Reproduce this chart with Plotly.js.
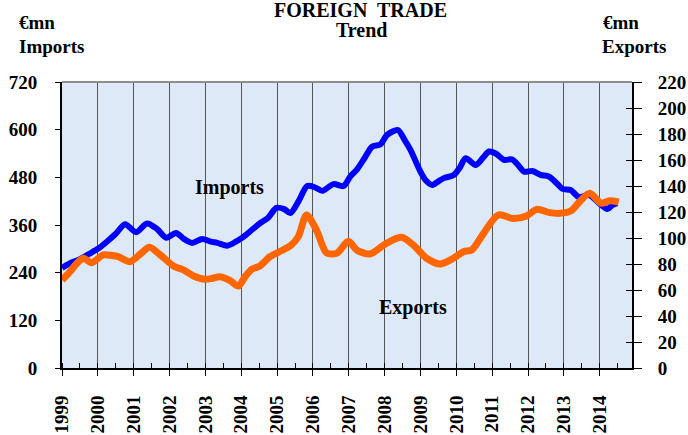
<!DOCTYPE html>
<html>
<head>
<meta charset="utf-8">
<script src="https://cdn.plot.ly/plotly-3.0.1.min.js"></script>
<style>html,body{margin:0;padding:0;background:#fff}#chart{width:688px;height:435px}</style>
</head>
<body>
<div id="chart"></div>
<script>
// Imports (left axis, €mn) — decimal year vs value
const importsT = [1999.0,1999.25,1999.5,1999.75,2000.0,2000.25,2000.5,2000.76,2001.07,2001.37,2001.65,2001.91,2002.18,2002.4,2002.63,2002.91,2003.15,2003.33,2003.61,2003.85,2004.06,2004.3,2004.53,2004.75,2004.98,2005.2,2005.37,2005.6,2005.84,2006.05,2006.26,2006.57,2006.85,2007.04,2007.23,2007.45,2007.65,2007.88,2008.07,2008.37,2008.55,2008.72,2009.0,2009.15,2009.33,2009.5,2009.65,2009.93,2010.1,2010.26,2010.54,2010.75,2010.91,2011.1,2011.33,2011.56,2011.75,2011.89,2012.12,2012.35,2012.58,2012.8,2012.96,2013.19,2013.42,2013.7,2013.98,2014.21,2014.35,2014.49];
const importsV = [252,265,274,287,300,318,338,362,342,364,350,328,340,325,315,325,318,315,308,318,330,348,365,378,403,400,390,420,458,455,446,463,458,482,500,530,557,563,587,599,575,549,494,472,461,470,478,486,505,528,511,530,545,540,524,525,508,494,496,486,482,465,451,448,430,436,415,400,410,415];

// Exports (right axis, €mn)
const exportsT = [1999.0,1999.22,1999.4,1999.6,1999.83,2000.15,2000.4,2000.57,2000.9,2001.2,2001.44,2001.74,2002.11,2002.39,2002.67,2002.99,2003.2,2003.41,2003.69,2003.92,2004.1,2004.29,2004.52,2004.8,2005.1,2005.36,2005.59,2005.82,2006.1,2006.38,2006.66,2006.99,2007.22,2007.59,2008.05,2008.47,2008.8,2009.17,2009.55,2009.92,2010.2,2010.43,2010.76,2011.17,2011.59,2011.96,2012.24,2012.61,2012.89,2013.2,2013.44,2013.72,2014.04,2014.27,2014.53];
const exportsV = [67.7,74,80,84.4,81,87,86.5,85.6,81.8,88,92.8,87,78.5,75.4,70.8,68.2,69,70.2,67.2,63,70,75.9,78.5,85.6,90,93.8,101,117.7,106,88.5,88.2,97.5,90.8,87.7,95.9,100.5,94.6,84.4,80,84.4,89.5,90.8,103.6,117.7,115,117,122,119.5,119,121,128,134.4,126.7,128.7,127.7];

const yearTicks = [1999,2000,2001,2002,2003,2004,2005,2006,2007,2008,2009,2010,2011,2012,2013,2014];
const yearLabels = yearTicks.map(String);
const leftTicks = [0,120,240,360,480,600,720];
const rightTicks = [0,20,40,60,80,100,120,140,160,180,200,220];

const F = "'Liberation Serif','Times New Roman',serif";

const traces = [
  {x: importsT, y: importsV, type: 'scatter', mode: 'lines', name: 'Imports',
   line: {color: '#0000ff', width: 6, shape: 'spline', smoothing: 0.8}, yaxis: 'y', hoverinfo: 'skip'},
  {x: exportsT, y: exportsV, type: 'scatter', mode: 'lines', name: 'Exports',
   line: {color: '#ff6600', width: 7, shape: 'spline', smoothing: 0.8}, yaxis: 'y2', hoverinfo: 'skip'},
  {x: exportsT, y: exportsV, type: 'scatter', mode: 'lines', yaxis: 'y3',
   line: {color: 'rgba(0,0,0,0)', width: 0}, hoverinfo: 'skip', showlegend: false}
];

const layout = {
  width: 688, height: 435,
  margin: {l: 62, r: 56, t: 82, b: 67},
  paper_bgcolor: '#ffffff',
  plot_bgcolor: '#dde9f6',
  showlegend: false,
  font: {family: F, color: '#000', size: 19},
  xaxis: {
    range: [1999, 2014.9], tickvals: yearTicks, ticktext: yearLabels,
    tickangle: -90, ticks: 'outside', ticklen: 6, tickcolor: '#000', tickwidth: 1,
    ticklabelstandoff: 12,
    showgrid: true, gridcolor: '#555555', gridwidth: 1,
    showline: true, linecolor: '#000', linewidth: 2, zeroline: false,
    tickfont: {family: F, size: 19, weight: 'bold'},
    minor: {dtick: 0.5, tick0: 1999, ticks: 'inside', ticklen: 5, tickcolor: '#000', showgrid: false}
  },
  yaxis: {
    range: [0, 720], tickvals: leftTicks, ticks: 'outside', ticklen: 5, tickcolor: '#000',
    ticklabelstandoff: 14,
    showgrid: false, zeroline: false, showline: true, linecolor: '#000', linewidth: 2,
    tickfont: {family: F, size: 19, weight: 'bold'}
  },
  yaxis2: {
    range: [0, 220], tickvals: rightTicks, overlaying: 'y', side: 'right', anchor: 'x',
    ticks: 'outside', ticklen: 8, tickcolor: '#000', ticklabelstandoff: 12,
    showgrid: false, zeroline: false, showline: true, linecolor: '#000', linewidth: 2,
    tickfont: {family: F, size: 19, weight: 'bold'}
  },
  yaxis3: {
    range: [0, 220], tickvals: rightTicks, overlaying: 'y', side: 'right', anchor: 'x',
    ticks: 'inside', ticklen: 6, tickcolor: '#000', showticklabels: false,
    showgrid: false, zeroline: false, showline: false
  },
  shapes: [
    {type: 'line', xref: 'paper', yref: 'paper', x0: 0, x1: 1, y0: 1, y1: 1,
     line: {color: '#8c8c8c', width: 2}}
  ],
  annotations: [
    {text: '<b>FOREIGN  TRADE</b>', xref: 'paper', yref: 'paper', x: 0.523, y: 1, yshift: 85,
     xanchor: 'center', yanchor: 'top', showarrow: false, font: {family: F, size: 20}},
    {text: '<b>Trend</b>', xref: 'paper', yref: 'paper', x: 0.526, y: 1, yshift: 65,
     xanchor: 'center', yanchor: 'top', showarrow: false, font: {family: F, size: 20}},
    {text: '<b>€mn</b>', xref: 'paper', yref: 'paper', x: 0, xshift: -45, y: 1, yshift: 72,
     xanchor: 'left', yanchor: 'top', showarrow: false, font: {family: F, size: 19}},
    {text: '<b>Imports</b>', xref: 'paper', yref: 'paper', x: 0, xshift: -45, y: 1, yshift: 48,
     xanchor: 'left', yanchor: 'top', showarrow: false, font: {family: F, size: 19}},
    {text: '<b>€mn</b>', xref: 'paper', yref: 'paper', x: 1, xshift: -31, y: 1, yshift: 72,
     xanchor: 'left', yanchor: 'top', showarrow: false, font: {family: F, size: 19}},
    {text: '<b>Exports</b>', xref: 'paper', yref: 'paper', x: 1, xshift: -32, y: 1, yshift: 48,
     xanchor: 'left', yanchor: 'top', showarrow: false, font: {family: F, size: 19}},
    {text: '<b>Imports</b>', xref: 'paper', yref: 'paper', x: 0.293, y: 0.63,
     xanchor: 'center', yanchor: 'middle', showarrow: false, font: {family: F, size: 20}},
    {text: '<b>Exports</b>', xref: 'paper', yref: 'paper', x: 0.616, y: 0.21,
     xanchor: 'center', yanchor: 'middle', showarrow: false, font: {family: F, size: 20}}
  ]
};

Plotly.newPlot('chart', traces, layout, {staticPlot: true, displayModeBar: false});
</script>
</body>
</html>
